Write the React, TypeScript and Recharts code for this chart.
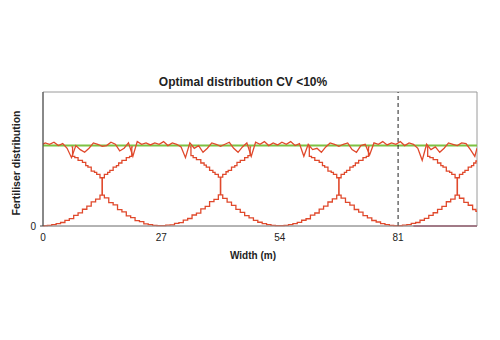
import React from 'react';
import {
  LineChart, Line, XAxis, YAxis, ReferenceLine, ReferenceArea,
} from 'recharts';

// width positions (m) across the bout
const widths = [
  0, 0.5, 1.5, 2.5, 3.5, 4.5, 5.5, 6.5, 7.5, 8.5, 9.5, 10.5, 11.5, 12.5, 13.5, 14.5, 15.5, 16.5, 17.5, 18.5,
  19.5, 20.5, 21.5, 22.5, 23.5, 24.5, 25.5, 26.5, 27.5, 28.5, 29.5, 30.5, 31.5, 32.5, 33.5, 34.5, 35.5, 36.5,
  37.5, 38.5, 39.5, 40.5, 41.5, 42.5, 43.5, 44.5, 45.5, 46.5, 47.5, 48.5, 49.5, 50.5, 51.5, 52.5, 53.5, 54.5,
  55.5, 56.5, 57.5, 58.5, 59.5, 60.5, 61.5, 62.5, 63.5, 64.5, 65.5, 66.5, 67.5, 68.5, 69.5, 70.5, 71.5, 72.5,
  73.5, 74.5, 75.5, 76.5, 77.5, 78.5, 79.5, 80.5, 81.5, 82.5, 83.5, 84.5, 85.5, 86.5, 87.5, 88.5, 89.5, 90.5,
  91.5, 92.5, 93.5, 94.5, 95.5, 96.5, 97.5, 98.5, 99,
];

// overlapped (total) distribution
const total = [
  61, 62, 61, 62.5, 60, 61.5, 58, 51, 60, 57, 55, 58, 62, 61, 59.5, 60, 62.5, 61, 56, 58,
  62, 52, 63, 61, 62, 60.5, 62, 61, 63, 60, 62, 61, 59, 51, 62, 58, 60, 55,
  58, 62, 61, 59.5, 61, 62.5, 58, 55, 59, 62, 52, 62.5, 61, 63, 60, 62, 60.5, 62.5,
  61, 63, 60, 61.5, 52, 61, 57, 58, 55, 59, 62, 61, 59.5, 61, 62, 57, 55, 60,
  61, 53, 62, 61, 63, 60.5, 62, 61, 63, 60, 62, 61, 58, 49, 61, 57, 59, 55,
  58, 62, 61, 60, 62, 61.5, 57, 52, 58,
];

// single pass spread pattern
const single = [
  0.2, 0.3, 0.5, 1.0, 1.8, 2.6, 4.2, 5.5, 8.0, 9.8, 12.5, 14.8, 18.0, 20.0, 23, 21, 17.5, 15.8, 12.2, 10.5,
  7.6, 6.2, 4.0, 3.2, 1.6, 1.1, 0.5, 0.3, 0.3, 0.6, 0.9, 2.0, 2.5, 4.4, 5.6, 8.2, 9.6, 12.8,
  14.6, 18.2, 19.8, 23.2, 20.6, 17.8, 15.4, 12.4, 10.2, 7.8, 6.0, 4.2, 2.8, 1.8, 1.0, 0.5, 0.3, 0.3,
  0.5, 1.1, 1.7, 2.7, 4.3, 5.4, 8.1, 9.7, 12.6, 14.9, 17.9, 20.2, 23, 20.8, 17.6, 15.6, 12.3, 10.4,
  7.7, 6.1, 4.1, 3.0, 1.7, 1.0, 0.5, 0.3, 0.3, 0.6, 1.0, 1.9, 2.6, 4.3, 5.7, 8.0, 9.9, 12.4,
  14.7, 18.1, 20.1, 23, 20.7, 17.7, 15.5, 12.3, 11.0,
];

// neighbouring passes without the centre pass: [width, value]
const arch1 = [[6.5, 59], [7, 52], [7.5, 51], [8.5, 49], [9.5, 47.5], [10, 45], [10.5, 44], [11.5, 41], [12, 40], [12.5, 38.5], [13.5, 36], [14.5, 38.5], [15, 40], [15.5, 41.5], [16.5, 44], [17, 45], [17.5, 47], [18.5, 49], [19.5, 51], [20, 52], [20.5, 59]];
const arch2 = [[33.5, 59], [34, 52.5], [34.5, 51], [35.5, 49.5], [36.5, 47], [37, 45.5], [37.5, 44], [38.5, 41.5], [39, 40], [39.5, 38.5], [40.5, 36.5], [41.5, 38.5], [42, 40.5], [42.5, 41.5], [43.5, 44], [44, 45], [44.5, 47.5], [45.5, 49], [46.5, 51], [47, 52.5], [47.5, 59]];
const arch3 = [[60.5, 59], [61, 52], [61.5, 51], [62.5, 49], [63.5, 47.5], [64, 45], [64.5, 44], [65.5, 41], [66, 40], [66.5, 38.5], [67.5, 36], [68.5, 38.5], [69, 40], [69.5, 41.5], [70.5, 44], [71, 45], [71.5, 47], [72.5, 49], [73.5, 51], [74, 52], [74.5, 59]];
const arch4 = [[87.5, 59], [88, 52], [88.5, 51], [89.5, 49.5], [90.5, 47], [91, 45], [91.5, 44], [92.5, 41], [93, 40], [93.5, 38.5], [94.5, 36], [95.5, 38.5], [96, 40], [96.5, 41.5], [97.5, 44], [98, 45], [98.5, 47], [99, 48.5]];

const stemX = [13.5, 40.5, 67.5, 94.5];
const stemLow = [23, 23.2, 23, 23];
const stemHigh = [36, 36.5, 36, 36];

const lastPass = [[84.5, 0], [99, 0]];
const target = [[0, 60], [99, 60]];

const xTicks = [0, 27, 54, 81];
const yTicks = [0];

const RED = '#e0492c';

const rows = widths.map((x, i) => ({ x, total: total[i], single: single[i] }));
const toRows = (pts: number[][]) => pts.map(([x, y]) => ({ x, y }));
const archRows = [arch1, arch2, arch3, arch4].flatMap((a) => [
  ...toRows(a),
  { x: a[a.length - 1][0], y: null },
]);
const stemRows = stemX.flatMap((x, i) => [
  { x, y: stemLow[i] },
  { x, y: stemHigh[i] },
  { x, y: null },
]);

const font = '"Liberation Sans", Arial, sans-serif';

export default function App() {
  return (
    <div style={{ position: 'absolute', left: 0, top: 0, width: 500, height: 340, background: '#fff', fontFamily: font }}>
      <div style={{ position: 'absolute', left: 243, top: 82, transform: 'translate(-50%, -50%)', fontSize: 12, fontWeight: 'bold', color: '#222', whiteSpace: 'nowrap' }}>
        Optimal distribution CV &lt;10%
      </div>
      <div style={{ position: 'absolute', left: 16, top: 163, transform: 'translate(-50%, -50%) rotate(-90deg)', fontSize: 10.5, fontWeight: 'bold', color: '#222', whiteSpace: 'nowrap' }}>
        Fertiliser distribution
      </div>
      <div style={{ position: 'absolute', left: 253, top: 255, transform: 'translate(-50%, -50%)', fontSize: 10, fontWeight: 'bold', color: '#222', whiteSpace: 'nowrap' }}>
        Width (m)
      </div>
      <LineChart
        width={500}
        height={340}
        data={rows}
        margin={{ top: 92, right: 23, bottom: 84, left: 13 }}
        style={{ position: 'absolute', left: 0, top: 0 }}
      >
        <ReferenceArea x1={0} x2={99} y1={0} y2={100} fill="none" stroke="#9a9a9a" strokeWidth={1} />
        <XAxis
          dataKey="x"
          type="number"
          domain={[0, 99]}
          ticks={xTicks}
          allowDataOverflow
          height={30}
          tickLine={false}
          tickSize={6}
          tickMargin={2}
          axisLine={{ stroke: '#9a9a9a' }}
          tick={{ fontSize: 10, fill: '#222', fontFamily: font }}
        />
        <YAxis
          type="number"
          domain={[0, 100]}
          ticks={yTicks}
          width={30}
          tickSize={3}
          tickMargin={4}
          axisLine={{ stroke: '#444' }}
          tickLine={{ stroke: '#444' }}
          tick={{ fontSize: 10, fill: '#222', fontFamily: font }}
        />
        <Line data={toRows(target)} dataKey="y" stroke="#7dc242" strokeWidth={2} dot={false} isAnimationActive={false} />
        <Line type="step" dataKey="single" stroke={RED} strokeWidth={1.3} dot={false} isAnimationActive={false} />
        <Line data={lastPass.map(([x, y]) => ({ x, y }))} dataKey="y" stroke="#9b3556" strokeWidth={1.5} dot={false} isAnimationActive={false} />
        <Line type="step" data={archRows} dataKey="y" stroke={RED} strokeWidth={1.3} dot={false} connectNulls={false} isAnimationActive={false} />
        <Line data={stemRows} dataKey="y" stroke={RED} strokeWidth={1.6} dot={false} connectNulls={false} isAnimationActive={false} />
        <Line dataKey="total" stroke={RED} strokeWidth={1.3} dot={false} isAnimationActive={false} />
        <ReferenceLine x={81} stroke="#222" strokeDasharray="4 3" />
      </LineChart>
    </div>
  );
}
